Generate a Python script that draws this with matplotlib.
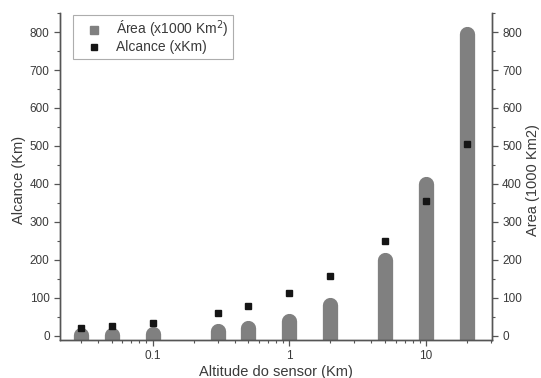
import numpy as np
import matplotlib
matplotlib.use("Agg")
import matplotlib.pyplot as plt
from matplotlib.ticker import MultipleLocator, LogLocator, FixedLocator, NullFormatter

# -----------------------------
# Data
# -----------------------------
altitude = [0.03, 0.05, 0.1, 0.3, 0.5, 1, 2, 5, 10, 20]
area = [1.3, 2, 4, 12, 20, 40, 80, 200, 400, 795]
alcance = [19.5, 25.5, 35, 61, 79, 113, 158, 251, 356, 504]

plt.rcParams["font.family"] = ["Liberation Sans", "DejaVu Sans"]
txt = "#3a3a3a"

fig = plt.figure(figsize=(5.41, 3.78), dpi=100)
ax = fig.add_axes([0.111, 0.1005, 0.798, 0.865])
ax2 = ax.twinx()

ax.set_xscale("log")
ax.set_xlim(0.021, 30.4)
ylim = (-11, 850)
ax.set_ylim(*ylim)
ax2.set_ylim(*ylim)

# rounded bars: thick vertical lines with round caps
for x, a in zip(altitude, area):
    ax.plot([x, x], [ylim[0] - 30, a], color="#808080", lw=11,
            solid_capstyle="round", zorder=2)

ax.plot(altitude, alcance, ls="none", marker="s", ms=4.5, color="#151515", zorder=3)

# legend handles
ax.plot([], [], ls="none", marker="s", ms=6, color="#808080", label="Área (x1000 Km$^2$)")
ax.plot([], [], ls="none", marker="s", ms=4.5, color="#151515", label="Alcance (xKm)")
leg = ax.legend(loc="upper left", bbox_to_anchor=(0.030, 0.994), borderaxespad=0,
                fontsize=10, frameon=True, fancybox=False, edgecolor="#999999",
                handlelength=2.4, handletextpad=0.4, borderpad=0.3, labelspacing=0.0)
leg.get_frame().set_linewidth(0.8)
for t in leg.get_texts():
    t.set_color(txt)

# ticks
ax.yaxis.set_major_locator(MultipleLocator(100))
ax.yaxis.set_minor_locator(MultipleLocator(50))
ax2.yaxis.set_major_locator(MultipleLocator(100))
ax2.yaxis.set_minor_locator(MultipleLocator(50))
ax.xaxis.set_major_locator(FixedLocator([0.1, 1, 10]))
ax.xaxis.set_major_formatter(plt.FuncFormatter(lambda v, p: f"{v:g}"))
ax.xaxis.set_minor_locator(LogLocator(base=10, subs=np.arange(2, 10), numticks=20))
ax.xaxis.set_minor_formatter(NullFormatter())

for a in (ax, ax2):
    a.tick_params(which="major", direction="out", length=4, width=0.9,
                  colors="#555555", labelcolor=txt, labelsize=8.5)
    a.tick_params(which="minor", direction="out", length=2.5, width=0.8, colors="#555555")
    a.spines["top"].set_visible(False)
    for s in a.spines.values():
        s.set_color("#555555")
        s.set_linewidth(1.0)

ax.set_xlabel("Altitude do sensor (Km)", fontsize=10.5, color=txt, labelpad=2)
ax.set_ylabel("Alcance (Km)", fontsize=10.5, color=txt)
ax.yaxis.set_label_coords(-0.079, 0.49)
ax2.set_ylabel("Area (1000 Km2)", fontsize=10.5, color=txt)
ax2.yaxis.set_label_coords(1.08, 0.49)

plt.savefig("out.png", dpi=100)
